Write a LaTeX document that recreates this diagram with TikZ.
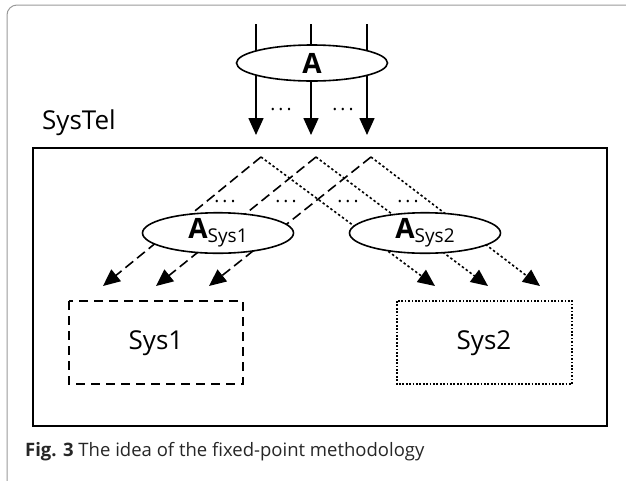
\documentclass[tikz,border=0pt]{standalone}
\usepackage{fontspec}
\setmainfont{Open Sans}
\usetikzlibrary{arrows.meta,shapes.geometric}
\begin{document}
\begin{tikzpicture}[x=1pt,y=-1pt,
  lw/.style={line width=1.6pt},
  tip/.style={-{Triangle[length=17pt,width=15pt]}},
  dashline/.style={lw,tip,dash pattern=on 10pt off 5pt},
  dotline/.style={lw,tip,dash pattern=on 2.4pt off 2.4pt},
  oval/.style={ellipse,draw,lw,fill=white,inner sep=0pt},
  dots/.style={font=\fontsize{19}{19}\selectfont,anchor=base,inner sep=0pt},
  lbl/.style={font=\fontsize{26}{26}\selectfont,inner sep=0pt}
]
\useasboundingbox (0,0) rectangle (626,480);
% outer frame
\draw[gray!80,line width=1pt,rounded corners=10pt] (7,5) rectangle (660,510);

% top arrows
\foreach \i/\x in {1/256,2/311,3/367}{
  \coordinate (s\i) at (\x,24);
  \coordinate (e\i) at (\x,135);
  \draw[lw,tip] (s\i) -- (e\i);
}
\node[oval,minimum width=151pt,minimum height=36pt] (A) at (312,63)
  {\fontsize{28}{28}\selectfont\bfseries A};
\node[dots] (d1) at (281,110) {.\hspace{3pt}.\hspace{3pt}.};
\node[dots] (d2) at (343,110) {.\hspace{3pt}.\hspace{3pt}.};

% SysTel
\node[lbl,anchor=base west] (systel) at (42,129) {SysTel};
\draw[lw] (33,148) rectangle (607,426);

% peaks and tips
\foreach \i/\x in {1/261,2/316,3/371}{\coordinate (p\i) at (\x,157);}
\coordinate (l1) at (103,286);
\coordinate (l2) at (156,286);
\coordinate (l3) at (209,286);
\coordinate (r1) at (435,286);
\coordinate (r2) at (488,286);
\coordinate (r3) at (540,286);
\foreach \i in {1,2,3}{
  \draw[dotline] (p\i) -- (r\i);
  \draw[dashline] (p\i) -- (l\i);
}
\node[dots] (m1) at (225,202) {.\hspace{3pt}.\hspace{3pt}.};
\node[dots] (m2) at (286,202) {.\hspace{3pt}.\hspace{3pt}.};
\node[dots] (m3) at (348,202) {.\hspace{3pt}.\hspace{3pt}.};
\node[dots] (m4) at (408,202) {.\hspace{3pt}.\hspace{3pt}.};

\node[oval,minimum width=151pt,minimum height=33pt] (A1) at (218,233)
  {{\fontsize{28}{28}\selectfont\bfseries A}\raisebox{-4pt}{\fontsize{19}{19}\selectfont Sys1}};
\node[oval,minimum width=151pt,minimum height=33pt] (A2) at (425,233)
  {{\fontsize{28}{28}\selectfont\bfseries A}\raisebox{-4pt}{\fontsize{19}{19}\selectfont Sys2}};

% Sys boxes
\draw[line width=1.4pt,dash pattern=on 9pt off 6pt] (69,301) rectangle (243,384);
\draw[line width=1.2pt,dash pattern=on 1.7pt off 1.7pt] (397,301) rectangle (572,384);
\node[lbl] (sys1) at (156,343) {Sys1};
\node[lbl] (sys2) at (484,343) {Sys2};

% caption
\node[anchor=base west,inner sep=0pt,font=\fontsize{18.5}{18.5}\selectfont,text=black!85] (cap) at (25,456)
  {\textbf{Fig. 3} The idea of the fixed-point methodology};
\end{tikzpicture}
\end{document}
